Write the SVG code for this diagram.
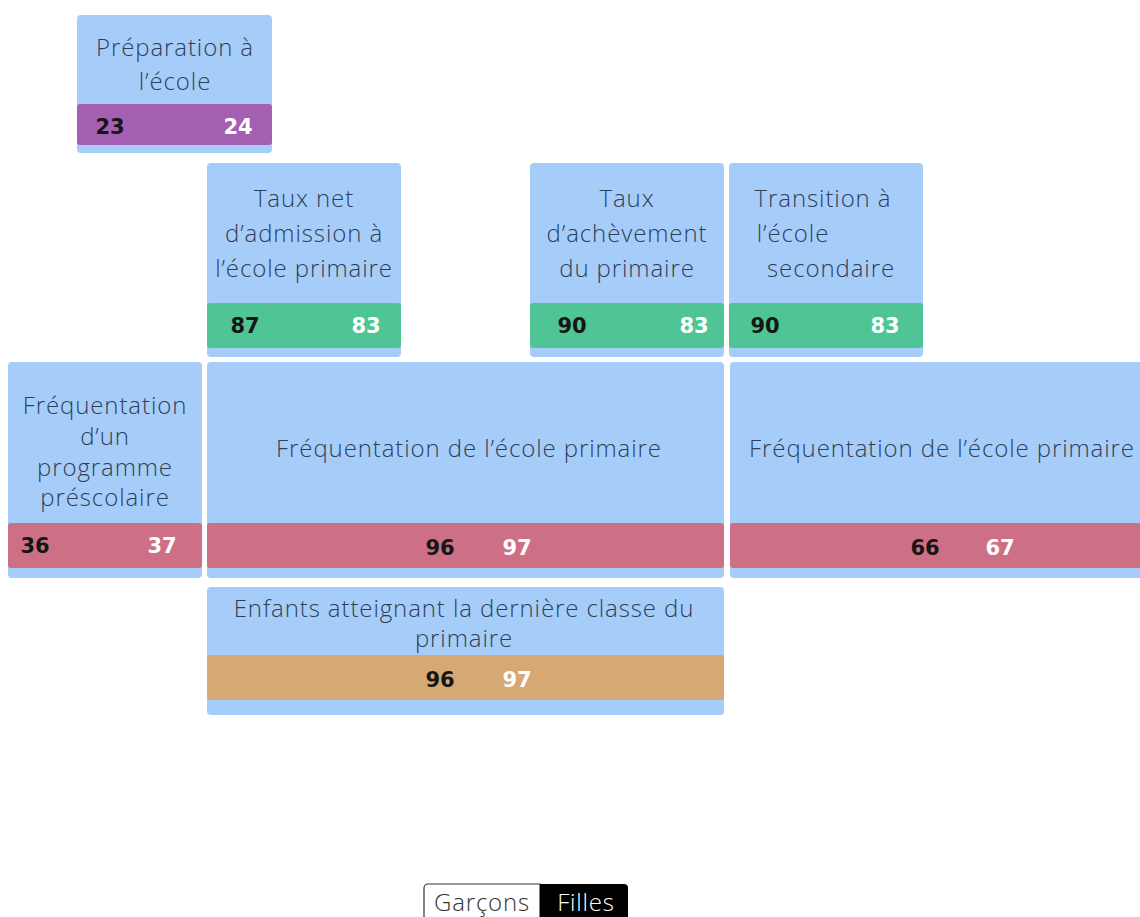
<svg xmlns="http://www.w3.org/2000/svg" width="1140" height="917" viewBox="0 0 1140 917">
<style>
.card{fill:#a6cdfa;}
.lbl{font-family:"Open Sans","Noto Sans",sans-serif;font-weight:300;font-size:24px;letter-spacing:0.9px;fill:#2e3f56;text-anchor:middle;}
.num{font-family:"DejaVu Sans",sans-serif;font-weight:bold;font-size:21px;text-anchor:middle;}
.d{fill:#161616;}
.w{fill:#ffffff;}
.purple{fill:#a45fb2;}
.green{fill:#4fc596;}
.pink{fill:#cd7086;}
.tan{fill:#d6a873;}
.tog{font-family:"Open Sans",sans-serif;font-weight:300;font-size:24px;letter-spacing:0.8px;text-anchor:middle;}
</style>
<rect width="1140" height="917" fill="#ffffff"/>
<g id="connectors"></g>

<g id="node-preparation">
<rect class="card" x="77" y="15" width="195" height="138" rx="4"/>
<rect class="purple" x="77" y="104" width="195" height="41" rx="3"/>
<text class="lbl" x="175" y="56">Préparation à</text>
<text class="lbl" x="175" y="90">l’école</text>
<text class="num d" x="110" y="134" fill="#2a0f2e">23</text>
<text class="num w" x="238" y="134">24</text>
</g>

<g id="node-admission">
<rect class="card" x="207" y="163" width="194" height="194" rx="4"/>
<rect class="green" x="207" y="303" width="194" height="45" rx="3"/>
<text class="lbl" x="304" y="207">Taux net</text>
<text class="lbl" x="304" y="242">d’admission à</text>
<text class="lbl" x="304" y="277">l’école primaire</text>
<text class="num d" x="245" y="333">87</text>
<text class="num w" x="366" y="333">83</text>
</g>

<g id="node-achevement">
<rect class="card" x="530" y="163" width="194" height="194" rx="4"/>
<rect class="green" x="530" y="303" width="194" height="45" rx="3"/>
<text class="lbl" x="627" y="207">Taux</text>
<text class="lbl" x="627" y="242">d’achèvement</text>
<text class="lbl" x="627" y="277">du primaire</text>
<text class="num d" x="572" y="333">90</text>
<text class="num w" x="694" y="333">83</text>
</g>

<g id="node-transition">
<rect class="card" x="729" y="163" width="194" height="194" rx="4"/>
<rect class="green" x="729" y="303" width="194" height="45" rx="3"/>
<text class="lbl" x="823" y="207">Transition à</text>
<text class="lbl" x="793" y="242">l’école</text>
<text class="lbl" x="831" y="277">secondaire</text>
<text class="num d" x="765" y="333">90</text>
<text class="num w" x="885" y="333">83</text>
</g>

<g id="node-prescolaire">
<rect class="card" x="8" y="362" width="194" height="216" rx="4"/>
<rect class="pink" x="8" y="523" width="194" height="45" rx="3"/>
<text class="lbl" x="105" y="414">Fréquentation</text>
<text class="lbl" x="105" y="445">d’un</text>
<text class="lbl" x="105" y="476">programme</text>
<text class="lbl" x="105" y="506">préscolaire</text>
<text class="num d" x="35" y="553">36</text>
<text class="num w" x="162" y="553">37</text>
</g>

<g id="node-primaire">
<rect class="card" x="207" y="362" width="517" height="216" rx="4"/>
<rect class="pink" x="207" y="523" width="517" height="45" rx="3"/>
<text class="lbl" x="469" y="457">Fréquentation de l’école primaire</text>
<text class="num d" x="440" y="555">96</text>
<text class="num w" x="517" y="555">97</text>
</g>

<g id="node-primaire-2">
<rect class="card" x="730" y="362" width="440" height="216" rx="4"/>
<rect class="pink" x="730" y="523" width="440" height="45" rx="3"/>
<text class="lbl" x="942" y="457">Fréquentation de l’école primaire</text>
<text class="num d" x="925" y="555">66</text>
<text class="num w" x="1000" y="555">67</text>
</g>

<g id="node-derniere-classe">
<rect class="card" x="207" y="587" width="517" height="128" rx="4"/>
<rect class="tan" x="207" y="655" width="517" height="45" rx="3"/>
<text class="lbl" x="464" y="617">Enfants atteignant la dernière classe du</text>
<text class="lbl" x="464" y="647">primaire</text>
<text class="num d" x="440" y="687">96</text>
<text class="num w" x="517" y="687">97</text>
</g>

<g id="toggle">
<path d="M424,917 V888 a4,4 0 0 1 4,-4 H540 V917" fill="#ffffff" stroke="#333333" stroke-width="1.2"/>
<path d="M540,917 V884 H624 a4,4 0 0 1 4,4 V917 Z" fill="#000000"/>
<text class="tog" x="482" y="911" fill="#333333">Garçons</text>
<text class="tog" x="586" y="911" fill="#ffffff">Filles</text>
</g>
</svg>
